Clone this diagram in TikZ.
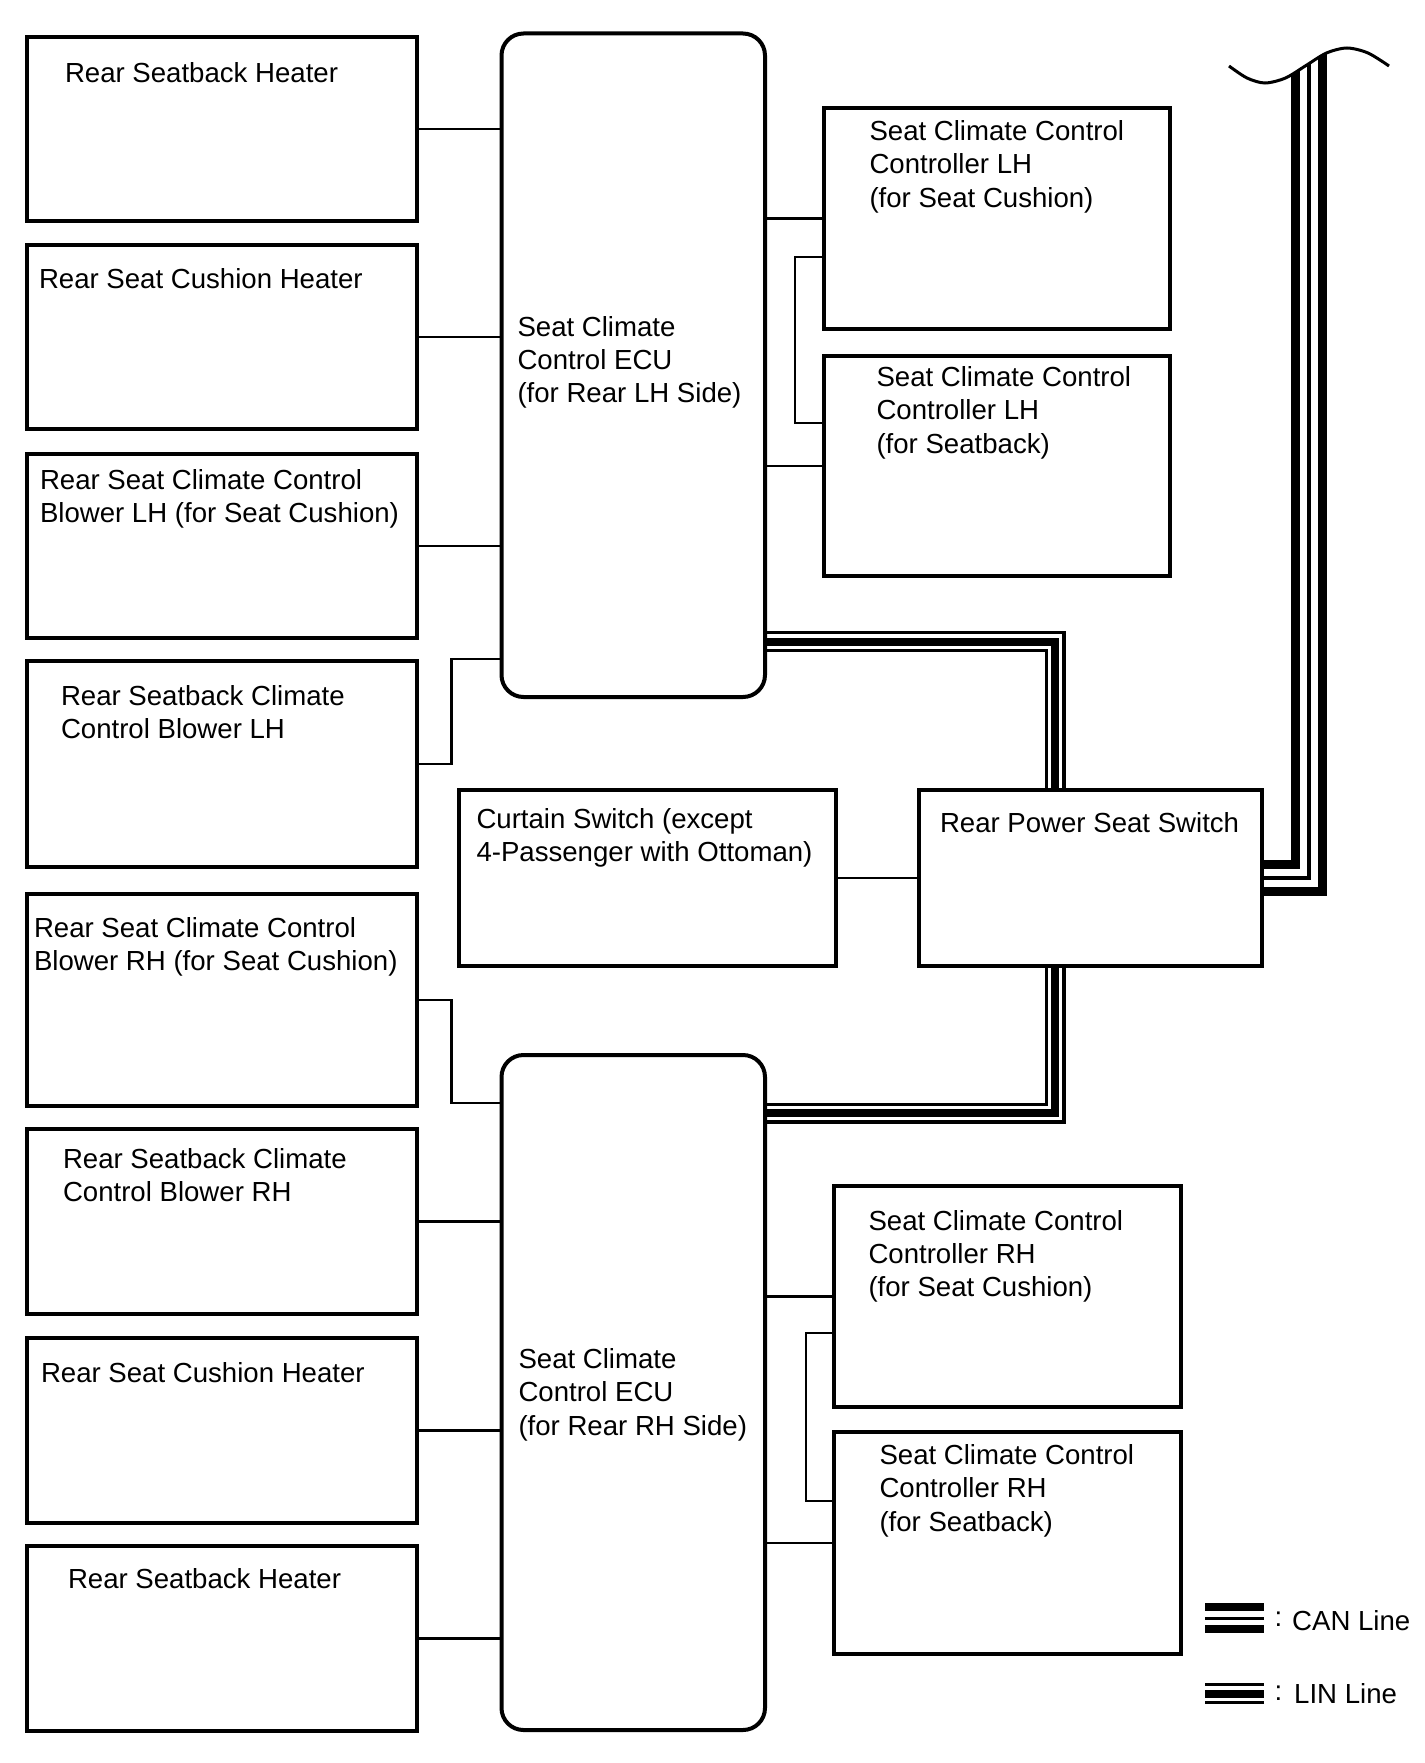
\documentclass[tikz,border=0pt]{standalone}
\usepackage{fontspec}
\setmainfont{Liberation Sans}
\usetikzlibrary{calc,backgrounds}
\newcommand{\twol}[2]{\vtop{\hbox{#1}\hbox{#2}}}
\newcommand{\threel}[3]{\vtop{\hbox{#1}\hbox{#2}\hbox{#3}}}
\tikzset{
  box/.style={draw=black, line width=4pt, rectangle, inner sep=0pt, outer sep=0pt},
  ecu/.style={box, rounded corners=22pt},
  conn/.style={draw=black, line width=2.5pt},
  txt/.style={inner sep=0pt, outer sep=0pt, anchor=base west, font=\fontsize{27.6}{33.3}\selectfont},
  linbus/.style={draw=black, line width=21pt, postaction={draw=white, line width=14.5pt}, postaction={draw=black, line width=8pt}},
  canbus/.style={draw=black, line width=36pt, postaction={draw=white, line width=18pt}, postaction={draw=black, line width=4pt}},
  canleg/.style={draw=black, line width=30pt, postaction={draw=white, line width=14pt}, postaction={draw=black, line width=3pt}},
  wave/.style={draw=black, line width=3pt},
}
\begin{document}
\begin{tikzpicture}[x=1pt,y=-1pt]
\useasboundingbox (0,0) rectangle (1424,1763);

% left column boxes
\node[box, minimum width=390pt, minimum height=184pt] (b1) at (221.5,129) {};
\node[box, minimum width=390pt, minimum height=184pt] (b2) at (221.5,337) {};
\node[box, minimum width=390pt, minimum height=184pt] (b3) at (221.5,546) {};
\node[box, minimum width=390pt, minimum height=206pt] (b4) at (221.5,764) {};
\node[box, minimum width=390pt, minimum height=212pt] (b5) at (221.5,1000) {};
\node[box, minimum width=390pt, minimum height=185pt] (b6) at (221.5,1221.5) {};
\node[box, minimum width=390pt, minimum height=185pt] (b7) at (221.5,1430.5) {};
\node[box, minimum width=390pt, minimum height=185pt] (b8) at (221.5,1638.5) {};

% ECUs
\node[ecu, minimum width=263.5pt, minimum height=663.5pt] (ecuL) at (633.25,365.25) {};
\node[ecu, minimum width=263.5pt, minimum height=675pt] (ecuR) at (633.25,1392.5) {};

% controllers
\node[box, minimum width=346pt, minimum height=221pt] (cl) at (997,218.5) {};
\node[box, minimum width=346pt, minimum height=220pt] (sl) at (997,466) {};
\node[box, minimum width=347pt, minimum height=221pt] (cr) at (1007.5,1296.5) {};
\node[box, minimum width=347pt, minimum height=222pt] (sr) at (1007.5,1543) {};

% switches
\node[box, minimum width=377pt, minimum height=176.5pt] (cur) at (647.5,877.75) {};
\node[box, minimum width=343.5pt, minimum height=176.5pt] (rpss) at (1090.25,877.75) {};

% texts
\node[txt] (t1) at (65,82.6) {Rear Seatback Heater};
\node[txt] (t2) at (39,288) {Rear Seat Cushion Heater};
\node[txt] (t3) at (40,489) {\twol{Rear Seat Climate Control}{Blower LH (for Seat Cushion)}};
\node[txt] (t4) at (61,705) {\twol{Rear Seatback Climate}{Control Blower LH}};
\node[txt] (t5) at (34,937) {\twol{Rear Seat Climate Control}{Blower RH (for Seat Cushion)}};
\node[txt] (t6) at (63,1168) {\twol{Rear Seatback Climate}{Control Blower RH}};
\node[txt] (t7) at (41,1382) {Rear Seat Cushion Heater};
\node[txt] (t8) at (68,1588) {Rear Seatback Heater};
\node[txt] (tecuL) at (517.5,336) {\threel{Seat Climate}{Control ECU}{(for Rear LH Side)}};
\node[txt] (tecuR) at (518.5,1368.5) {\threel{Seat Climate}{Control ECU}{(for Rear RH Side)}};
\node[txt] (tcl) at (869.5,140.6) {\threel{Seat Climate Control}{Controller LH}{(for Seat Cushion)}};
\node[txt] (tsl) at (876.5,386.6) {\threel{Seat Climate Control}{Controller LH}{(for Seatback)}};
\node[txt] (tcr) at (868.5,1230) {\threel{Seat Climate Control}{Controller RH}{(for Seat Cushion)}};
\node[txt] (tsr) at (879.5,1464.5) {\threel{Seat Climate Control}{Controller RH}{(for Seatback)}};
\node[txt] (tcur) at (476.5,828) {\twol{Curtain Switch (except}{4-Passenger with Ottoman)}};
\node[txt] (trpss) at (940,832) {Rear Power Seat Switch};

% plain connectors
\draw[conn] (b1.east) -- (b1.east -| ecuL.west);
\draw[conn] (b2.east) -- (b2.east -| ecuL.west);
\draw[conn] (b3.east) -- (b3.east -| ecuL.west);
\draw[conn] (b4.east) -- ++(35,0) |- ($(ecuL.south west)+(0,-38)$);
\draw[conn] (b5.east) -- ++(35,0) |- ($(ecuR.north west)+(0,48)$);
\draw[conn] (b6.east) -- (b6.east -| ecuR.west);
\draw[conn] (b7.east) -- (b7.east -| ecuR.west);
\draw[conn] (b8.east) -- (b8.east -| ecuR.west);
\draw[conn] (cl.west) -- (cl.west -| ecuL.east);
\draw[conn] (sl.west) -- (sl.west -| ecuL.east);
\draw[conn] (cr.west) -- (cr.west -| ecuR.east);
\draw[conn] (sr.west) -- (sr.west -| ecuR.east);
\draw[conn] ($(cl.west)+(0,38.5)$) -| ($(sl.west)+(-29,-43)$) -- ($(sl.west)+(0,-43)$);
\draw[conn] ($(cr.west)+(0,36.5)$) -| ($(sr.west)+(-28,-42)$) -- ($(sr.west)+(0,-42)$);
\draw[conn] (cur.east) -- (rpss.west);

% bus lines
\coordinate (cantop) at (1309,20);
\begin{scope}[on background layer]
  \fill[white] (0,0) rectangle (1424,1763);
  \draw[linbus] ($(ecuL.south east)+(0,-55.5)$) -| ($(rpss.north west)+(136.5,0)$);
  \draw[linbus] ($(rpss.south west)+(136.5,0)$) |- ($(ecuR.north east)+(0,58)$);
  \begin{scope}
    \clip plot[smooth] coordinates {(1229,66) (1247,78) (1265,83) (1285.5,78) (1306,65.5) (1326.5,53) (1347,48) (1368,53) (1389,66)} -- (1389,1000) -- (1229,1000) -- cycle;
    \draw[canbus] (rpss.east) -| (cantop);
  \end{scope}
\end{scope}
\draw[wave] plot[smooth] coordinates {(1229,66) (1247,78) (1265,83) (1285.5,78) (1306,65.5) (1326.5,53) (1347,48) (1368,53) (1389,66)};

% legend
\coordinate (cl1) at (1205,1618);
\coordinate (cl2) at (1264,1618);
\coordinate (ll1) at (1205,1693.5);
\coordinate (ll2) at (1264,1693.5);
\draw[canleg] (cl1) -- (cl2);
\draw[linbus] (ll1) -- (ll2);
\node[txt] (canlab) at (1274.5,1630) {\raisebox{4pt}{:}\hspace{10pt}CAN Line};
\node[txt] (linlab) at (1274.5,1703) {\raisebox{3pt}{:}\hspace{12pt}LIN Line};
\end{tikzpicture}
\end{document}
